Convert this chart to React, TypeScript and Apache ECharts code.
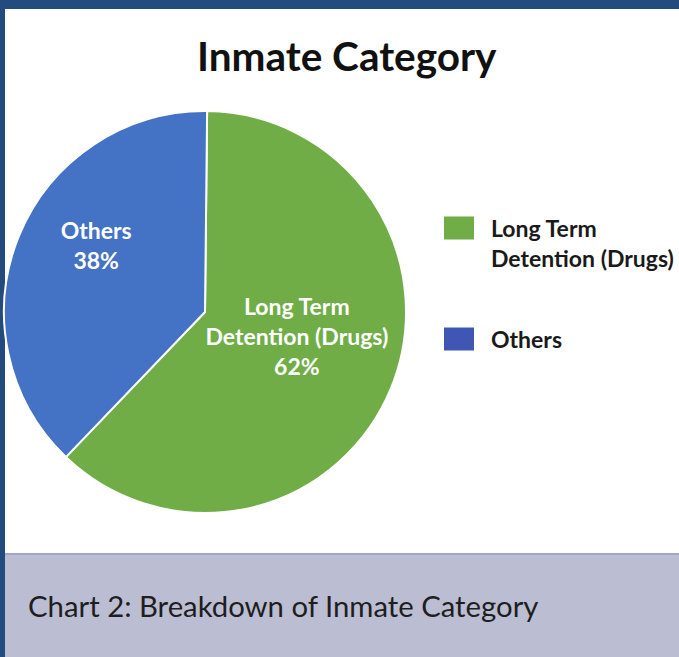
import React, { useEffect, useRef } from "react";
import * as echarts from "echarts";

const categories = ["Long Term Detention (Drugs)", "Others"];
const legendLabels = ["Long Term\nDetention (Drugs)", "Others"];
const values = [62, 38];
const sliceColors = ["#70ad47", "#4472c4"];
const legendColors = ["#70ad47", "#3f56b5"];
const titleText = "Inmate Category";
const captionText = "Chart 2: Breakdown of Inmate Category";

const FONT = "Lato, 'Open Sans', sans-serif";

export default function App() {
  const ref = useRef<HTMLDivElement>(null);
  useEffect(() => {
    document.body.style.margin = "0";
    const chart = echarts.init(ref.current!, undefined, { renderer: "svg" });
    const legendCommon = {
      orient: "vertical",
      itemWidth: 32,
      itemHeight: 25,
      padding: 0,
      itemGap: 0,
      icon: "rect",
      selectedMode: false,
    };
    const legendText = {
      fontFamily: FONT,
      fontSize: 23,
      fontWeight: "bold",
      lineHeight: 30,
      color: "#1a1a1a",
      padding: [0, 0, 0, 11],
    };
    chart.setOption({
      animation: false,
      backgroundColor: "#ffffff",
      title: {
        text: titleText,
        left: 197,
        top: 35,
        padding: 0,
        textStyle: { fontFamily: FONT, fontSize: 40.5, fontWeight: "bold", color: "#111111" },
      },
      legend: [
        {
          ...legendCommon,
          left: 442,
          top: 183,
          data: [{ name: categories[0], itemStyle: { color: legendColors[0] } }],
          formatter: () => "\n" + legendLabels[0],
          textStyle: legendText,
        },
        {
          ...legendCommon,
          left: 442,
          top: 324,
          data: [{ name: categories[1], itemStyle: { color: legendColors[1] } }],
          formatter: () => legendLabels[1],
          textStyle: legendText,
        },
      ],
      graphic: [
        { type: "rect", shape: { x: 0, y: 0, width: 679, height: 9 }, style: { fill: "#234b7e" }, silent: true },
        { type: "rect", shape: { x: 0, y: 0, width: 5, height: 657 }, style: { fill: "#234b7e" }, silent: true },
        { type: "rect", shape: { x: 5, y: 554, width: 674, height: 103 }, style: { fill: "#bbbdd3" }, silent: true },
        { type: "rect", shape: { x: 5, y: 553, width: 674, height: 2 }, style: { fill: "#a3a8c2" }, silent: true },
        {
          type: "text",
          x: 28,
          y: 605,
          style: {
            text: captionText,
            fontFamily: FONT,
            fontSize: 29.3,
            fill: "#1e1e1e",
            verticalAlign: "middle",
            textAlign: "left",
          },
          silent: true,
        },
      ],
      series: [
        {
          type: "pie",
          center: [205, 312],
          radius: 201,
          startAngle: 89.4,
          clockwise: true,
          avoidLabelOverlap: false,
          itemStyle: { borderColor: "#ffffff", borderWidth: 2 },
          emphasis: { disabled: true },
          label: {
            show: true,
            position: "inside",
            color: "#ffffff",
            fontFamily: FONT,
            fontSize: 23,
            fontWeight: "bold",
            lineHeight: 30,
            formatter: (p: any) => `${legendLabels[p.dataIndex]}\n${p.value}%`,
          },
          labelLine: { show: false },
          labelLayout: (p: any) => (p.dataIndex === 0 ? { dx: -4, dy: -15 } : { dx: -13, dy: -28 }),
          data: categories.map((c, i) => ({ name: c, value: values[i], itemStyle: { color: sliceColors[i] } })),
        },
      ],
    });
    return () => chart.dispose();
  }, []);
  return <div ref={ref} style={{ position: "fixed", left: 0, top: 0, width: 679, height: 657 }} />;
}
